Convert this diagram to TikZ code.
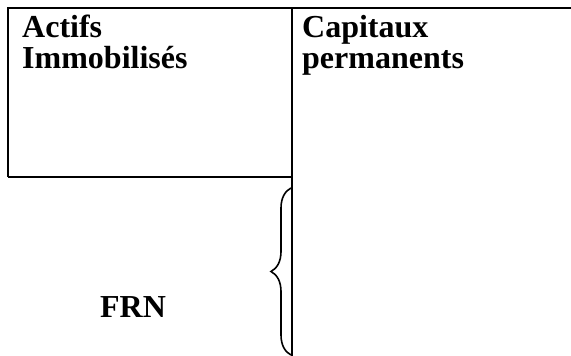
\documentclass[tikz,border=0pt]{standalone}
\usepackage{fontspec}
\setmainfont{Liberation Serif}
\usetikzlibrary{decorations.pathreplacing}
\tikzset{every node/.style={inner sep=0pt,font=\bfseries\fontsize{32}{31}\selectfont},
         cell/.style={anchor=base west,align=left},
         rule/.style={line width=1.6pt},
         accolade/.style={line width=1.6pt,decorate,decoration={brace,amplitude=20pt,aspect=0.5}},
         }
\begin{document}
\begin{tikzpicture}[x=1pt,y=-1pt]
\useasboundingbox (0,0) rectangle (571,356);
\coordinate (tl) at (8,8);
\coordinate (tm) at (292,8);
\coordinate (tr) at (571,8);
\coordinate (bl) at (8,177);
\coordinate (bm) at (292,177);
\coordinate (mb) at (292,356);
\draw[rule] (bl) -- (tl) -- (tr);
\draw[rule] (bl) -- (bm);
\draw[rule] (tm) -- (mb);
% last line of the cell text sits on the base anchor
\node[cell] (actifs) at (22,68) {Actifs\\Immobilisés};
\node[cell] (capitaux) at (302,68) {Capitaux\\permanents};
\node[anchor=base] (frn) at (133,317) {FRN};
\draw[accolade] (291,355) -- (291,188);
\end{tikzpicture}
\end{document}
